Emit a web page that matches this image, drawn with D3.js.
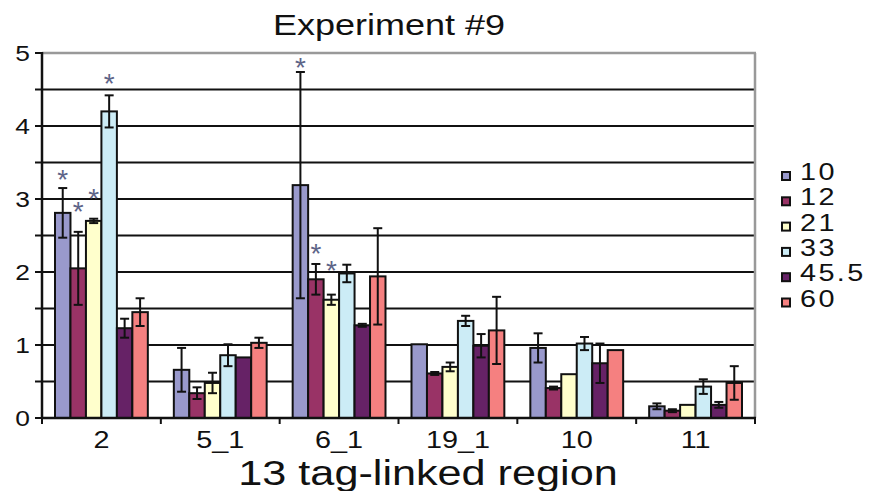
<!DOCTYPE html>
<html>
<head>
<meta charset="utf-8">
<script src="https://cdn.jsdelivr.net/npm/d3@7/dist/d3.min.js"></script>
<style>
  html, body { margin: 0; padding: 0; background: #fff; }
  text { font-family: "Liberation Sans", Arial, sans-serif; fill: #111; }
</style>
</head>
<body>
<svg id="chart" width="872" height="491"></svg>
<script>
// ---- data ----
const categories = ["2", "5_1", "6_1", "19_1", "10", "11"];
const seriesNames = ["10", "12", "21", "33", "45.5", "60"];
const seriesColors = ["#9999cc", "#993366", "#ffffcc", "#ccecf6", "#662266", "#f58080"];
// values[series][category]
const values10  = [2.81, 0.66, 3.19, 1.01, 0.96, 0.16];
const values12  = [2.05, 0.34, 1.90, 0.61, 0.41, 0.10];
const values21  = [2.70, 0.48, 1.62, 0.70, 0.60, 0.18];
const values33  = [4.20, 0.86, 1.98, 1.33, 1.02, 0.43];
const values455 = [1.23, 0.83, 1.27, 0.99, 0.75, 0.18];
const values60  = [1.45, 1.03, 1.94, 1.20, 0.93, 0.48];
// error (+/-)
const err10  = [0.34, 0.30, 1.55, 0, 0.20, 0.04];
const err12  = [0.50, 0.08, 0.21, 0.02, 0.02, 0.02];
const err21  = [0.03, 0.14, 0.07, 0.06, 0, 0];
const err33  = [0.22, 0.15, 0.12, 0.07, 0.09, 0.10];
const err455 = [0.13, 0, 0.02, 0.16, 0.27, 0.04];
const err60  = [0.19, 0.07, 0.66, 0.46, 0, 0.23];
// asterisk levels (null = none)
const star10  = [3.36, null, 4.89, null, null, null];
const star12  = [2.92, null, 2.34, null, null, null];
const star21  = [3.10, null, 2.11, null, null, null];
const star33  = [4.67, null, null, null, null, null];
const star455 = [null, null, null, null, null, null];
const star60  = [null, null, null, null, null, null];
const yTicks = [0, 1, 2, 3, 4, 5];
const gridValues = [0.5, 1, 1.5, 2, 2.5, 3, 3.5, 4, 4.5];

const allValues = [values10, values12, values21, values33, values455, values60];
const allErrors = [err10, err12, err21, err33, err455, err60];
const allStars = [star10, star12, star21, star33, star455, star60];

// ---- layout ----
const svg = d3.select("#chart");
const pLeft = 42, pRight = 755, pTop = 53, pBottom = 418;
const SX = 1.2; // horizontal text stretch

const x0 = d3.scaleBand().domain(categories).range([pLeft, pRight]).padding(0);
const x1 = d3.scaleBand().domain(seriesNames).range([13, x0.bandwidth() - 13]).padding(0);
const y = d3.scaleLinear().domain([0, 5]).range([pBottom, pTop]);

function stretchedText(g, x, yy, txt, size, anchor, extra) {
  const t = g.append("g").attr("transform", `translate(${x},${yy}) scale(${SX},1)`)
    .append("text").attr("text-anchor", anchor).attr("font-size", size).text(txt);
  if (extra) extra(t);
  return t;
}

// gridlines
svg.append("g").selectAll("line").data(gridValues).join("line")
  .attr("x1", pLeft).attr("x2", pRight)
  .attr("y1", d => y(d)).attr("y2", d => y(d))
  .attr("stroke", "#111").attr("stroke-width", 2);
svg.append("line").attr("x1", pLeft).attr("x2", pRight + 1).attr("y1", y(5)).attr("y2", y(5))
  .attr("stroke", "#999").attr("stroke-width", 2.5);
svg.append("line").attr("x1", pRight).attr("x2", pRight).attr("y1", y(5)).attr("y2", y(0))
  .attr("stroke", "#999").attr("stroke-width", 2.5);

// bars
const rows = [];
categories.forEach((c, ci) => {
  seriesNames.forEach((s, si) => {
    rows.push({cat: c, ser: s, si, v: allValues[si][ci], e: allErrors[si][ci], star: allStars[si][ci]});
  });
});

const bars = svg.append("g");
bars.selectAll("rect").data(rows).join("rect")
  .attr("x", d => x0(d.cat) + x1(d.ser))
  .attr("y", d => y(d.v))
  .attr("width", x1.bandwidth())
  .attr("height", d => y(0) - y(d.v))
  .attr("fill", d => seriesColors[d.si])
  .attr("stroke", "#111").attr("stroke-width", 2);

// error bars
const eb = svg.append("g").attr("stroke", "#111").attr("stroke-width", 2);
rows.filter(d => d.e > 0).forEach(d => {
  const cx = x0(d.cat) + x1(d.ser) + x1.bandwidth() / 2;
  eb.append("line").attr("x1", cx).attr("x2", cx).attr("y1", y(d.v + d.e)).attr("y2", y(Math.max(0, d.v - d.e)));
  [d.v + d.e, d.v - d.e].forEach(val => {
    eb.append("line").attr("x1", cx - 4.5).attr("x2", cx + 4.5).attr("y1", y(val)).attr("y2", y(val));
  });
});

// asterisks
svg.append("g").selectAll("text").data(rows.filter(d => d.star != null)).join("text")
  .attr("x", d => x0(d.cat) + x1(d.ser) + x1.bandwidth() / 2)
  .attr("y", d => y(d.star) + 16)
  .attr("text-anchor", "middle").attr("font-size", 28)
  .style("fill", "#5d6488")
  .text("*");

// axes lines
svg.append("line").attr("x1", pLeft).attr("x2", pLeft).attr("y1", y(5) - 1).attr("y2", y(0) + 1)
  .attr("stroke", "#111").attr("stroke-width", 2.5);
svg.append("line").attr("x1", pLeft - 1).attr("x2", pRight + 1).attr("y1", y(0)).attr("y2", y(0))
  .attr("stroke", "#111").attr("stroke-width", 2.5);
// y ticks
svg.append("g").selectAll("line").data(d3.range(0, 5.01, 0.5)).join("line")
  .attr("x1", pLeft - 7).attr("x2", pLeft).attr("y1", d => y(d)).attr("y2", d => y(d))
  .attr("stroke", "#111").attr("stroke-width", 2);
// x ticks
const xBounds = categories.map(c => x0(c)).concat([pRight]);
svg.append("g").selectAll("line").data(xBounds).join("line")
  .attr("x1", d => d).attr("x2", d => d).attr("y1", y(0)).attr("y2", y(0) + 6)
  .attr("stroke", "#111").attr("stroke-width", 2);

// y tick labels
yTicks.forEach(t => stretchedText(svg, 30, y(t) + 8, String(t), 22, "end"));
// x category labels
categories.forEach(c => stretchedText(svg, x0(c) + x0.bandwidth() / 2, 448, c, 24, "middle"));
// axis title
stretchedText(svg, 428, 485, "13 tag-linked region", 36, "middle");
// chart title
stretchedText(svg, 389, 35, "Experiment #9", 30, "middle");

// legend
const lg = svg.append("g");
seriesNames.forEach((s, i) => {
  const by = 180 + i * 25.3;
  lg.append("rect").attr("x", 782).attr("y", by - 8).attr("width", 8).attr("height", 8)
    .attr("fill", seriesColors[i]).attr("stroke", "#111").attr("stroke-width", 2);
  stretchedText(lg, 800, by, s, 24, "start", t => t.attr("letter-spacing", 2));
});
</script>
</body>
</html>
